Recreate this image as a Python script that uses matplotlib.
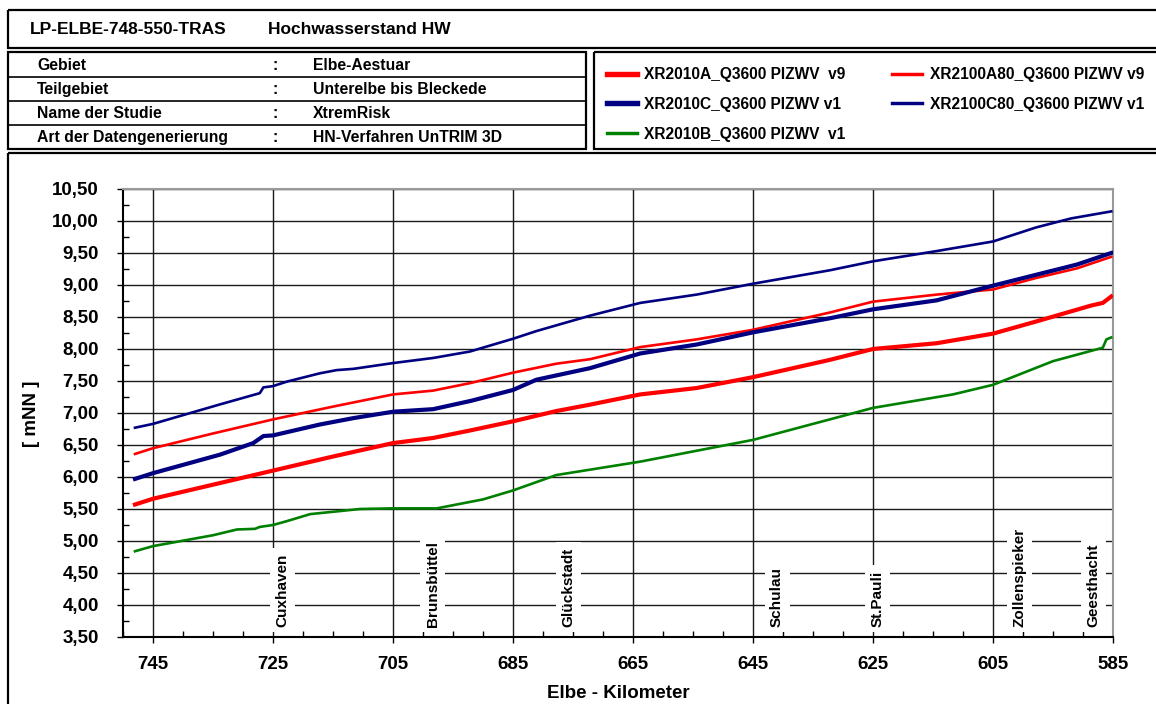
import numpy as np
import matplotlib
matplotlib.use('Agg')
import matplotlib.pyplot as plt
from matplotlib.patches import Rectangle
from matplotlib.lines import Line2D
from matplotlib.ticker import FuncFormatter, MultipleLocator

plt.rcParams['font.family'] = ['Liberation Sans', 'DejaVu Sans']
plt.rcParams['font.weight'] = 'bold'
plt.rcParams['axes.labelweight'] = 'bold'

# --- data (Elbe-km, water level in mNN) ---
km_c80 = [748, 745, 734, 727.2, 726.6, 725, 722.7, 717.2, 714.4, 711.6, 705, 698.3, 692.2,
          685, 681.1, 672.2, 663.8, 654.4, 645, 632.2, 625, 614.4, 605, 597.8, 592, 585.3]
hw_c80 = [6.77, 6.83, 7.13, 7.31, 7.40, 7.42, 7.49, 7.62, 7.67, 7.69, 7.78, 7.86, 7.96,
          8.16, 8.28, 8.52, 8.72, 8.85, 9.02, 9.23, 9.37, 9.53, 9.68, 9.90, 10.04, 10.15]

km_a80 = [748, 745, 735, 725, 715, 705, 698.3, 692, 685, 677.8, 672.2, 663.8, 654.4,
          645, 632.2, 625, 614.4, 605, 597.8, 591, 585.3]
hw_a80 = [6.36, 6.45, 6.68, 6.90, 7.10, 7.29, 7.35, 7.47, 7.63, 7.77, 7.84, 8.03, 8.15,
          8.30, 8.57, 8.74, 8.85, 8.93, 9.11, 9.26, 9.44]

km_c = [748, 745, 733.8, 728.3, 726.6, 725, 717.2, 711.6, 705, 698.3, 692, 685, 681.1,
        672.2, 663.8, 654.4, 645, 632.2, 625, 614.4, 605, 597.8, 591, 585.3]
hw_c = [5.97, 6.06, 6.35, 6.53, 6.64, 6.65, 6.82, 6.92, 7.02, 7.06, 7.19, 7.36, 7.52,
        7.70, 7.93, 8.07, 8.26, 8.48, 8.62, 8.76, 8.99, 9.16, 9.32, 9.50]

km_a = [748, 745, 735, 725, 715, 705, 698.3, 692, 685, 677.8, 672.2, 663.8, 654.4,
        645, 632.2, 625, 614.4, 605, 597.8, 588.6, 586.7, 585.3]
hw_a = [5.57, 5.66, 5.88, 6.10, 6.32, 6.53, 6.61, 6.73, 6.87, 7.03, 7.13, 7.29, 7.39,
        7.56, 7.83, 8.00, 8.09, 8.24, 8.43, 8.68, 8.72, 8.82]

km_b = [748, 745, 735, 731, 728, 727.2, 725, 722.7, 718.8, 710.5, 705, 697.7, 690,
        685, 677.8, 663.8, 654.4, 645, 625, 611.7, 605, 595, 586.7, 586.1, 585.3]
hw_b = [4.84, 4.92, 5.09, 5.18, 5.19, 5.22, 5.25, 5.31, 5.42, 5.50, 5.51, 5.51, 5.65,
        5.79, 6.03, 6.24, 6.41, 6.58, 7.08, 7.29, 7.44, 7.81, 8.02, 8.15, 8.18]

stations = ['Cuxhaven', 'Brunsbüttel', 'Glückstadt', 'Schulau', 'St.Pauli', 'Zollenspieker', 'Geesthacht']
station_km = [723.4, 698.4, 675.8, 641.0, 624.3, 600.6, 588.3]

info_keys = ['Gebiet', 'Teilgebiet', 'Name der Studie', 'Art der Datengenerierung']
info_vals = ['Elbe-Aestuar', 'Unterelbe bis Bleckede', 'XtremRisk', 'HN-Verfahren UnTRIM 3D']

W, H = 1156, 704


def px_rect(x0, y0, x1, y1):
    return [x0 / W, 1 - y1 / H, (x1 - x0) / W, (y1 - y0) / H]


fig = plt.figure(figsize=(W / 100, H / 100), dpi=100)

# header / frames drawn in pixel coordinates
ov = fig.add_axes([0, 0, 1, 1])
ov.set_xlim(0, W)
ov.set_ylim(H, 0)
ov.axis('off')
for (x0, y0, x1, y1) in [(8, 10, 1162, 48), (8, 52, 586, 149), (594, 52, 1162, 149), (8, 153, 1162, 712)]:
    ov.add_patch(Rectangle((x0, y0), x1 - x0, y1 - y0, fill=False, lw=1.6, ec='black'))
for yl in [77, 101, 125]:
    ov.plot([8, 586], [yl, yl], color='black', lw=1.2)

ov.text(30, 29, 'LP-ELBE-748-550-TRAS', fontsize=12.5, va='center')
ov.text(268, 29, 'Hochwasserstand HW', fontsize=12.5, va='center')
for i, (k, v) in enumerate(zip(info_keys, info_vals)):
    yy = 66 + i * 23.8
    ov.text(37, yy, k, fontsize=11.3, va='center')
    ov.text(272, yy, ':', fontsize=11.3, va='center')
    ov.text(313, yy, v, fontsize=11.3, va='center')

# chart
ax = fig.add_axes(px_rect(123, 189, 1113, 637))
ax.set_xlim(750, 585)
ax.set_ylim(3.5, 10.5)

l_a80, = ax.plot(km_a80, hw_a80, color='#ff0000', lw=1.9, zorder=4)
l_a, = ax.plot(km_a, hw_a, color='#ff0000', lw=3.0, zorder=4)
l_b, = ax.plot(km_b, hw_b, color='#008000', lw=1.9, zorder=4)
l_c, = ax.plot(km_c, hw_c, color='#000080', lw=3.0, zorder=5)
l_c80, = ax.plot(km_c80, hw_c80, color='#000080', lw=1.9, zorder=5)

ax.set_xticks(np.arange(745, 584, -20))
ax.xaxis.set_minor_locator(MultipleLocator(5))
ax.yaxis.set_major_locator(MultipleLocator(0.5))
ax.yaxis.set_minor_locator(MultipleLocator(0.25))
ax.yaxis.set_major_formatter(FuncFormatter(lambda v, p: f'{v:.2f}'.replace('.', ',')))
ax.grid(True, which='major', color='#1a1a1a', lw=1.0)
ax.tick_params(which='major', direction='out', length=4.5, width=1, labelsize=13.5)
ax.tick_params(which='minor', direction='in', length=4, width=1)
ax.tick_params(axis='x', which='major', pad=9)
ax.tick_params(axis='y', which='major', pad=13)
for s in ['left', 'bottom']:
    ax.spines[s].set_linewidth(1.5)
for s in ['top', 'right']:
    ax.spines[s].set_color('#999999')
    ax.spines[s].set_linewidth(1.5)

for name, k in zip(stations, station_km):
    ax.text(k, 3.66, name, rotation=90, ha='center', va='bottom', fontsize=11, zorder=3,
            bbox=dict(facecolor='white', edgecolor='none', pad=4))

ax.set_xlabel('Elbe - Kilometer', fontsize=13.5, fontweight='bold', labelpad=9)
fig.text(32 / W, 1 - 414 / H, '[ mNN ]', rotation=90, ha='center', va='center', fontsize=13.5)

handles = [l_a, l_c, l_b, l_a80, l_c80]
labels = ['XR2010A_Q3600 PIZWV  v9', 'XR2010C_Q3600 PIZWV v1', 'XR2010B_Q3600 PIZWV  v1',
          'XR2100A80_Q3600 PIZWV v9', 'XR2100C80_Q3600 PIZWV v1']
leg_h = [Line2D([], [], color=h.get_color(), lw=h.get_linewidth() * 1.3) for h in handles]
fig.legend(leg_h, labels, ncol=2, loc='upper left', bbox_to_anchor=(607 / W, 1 - 67 / H),
           frameon=False, fontsize=11.2, handlelength=1.9, handletextpad=0.5,
           labelspacing=0.95, columnspacing=3.0, borderpad=0, borderaxespad=0)

fig.savefig('out.png', dpi=100)
